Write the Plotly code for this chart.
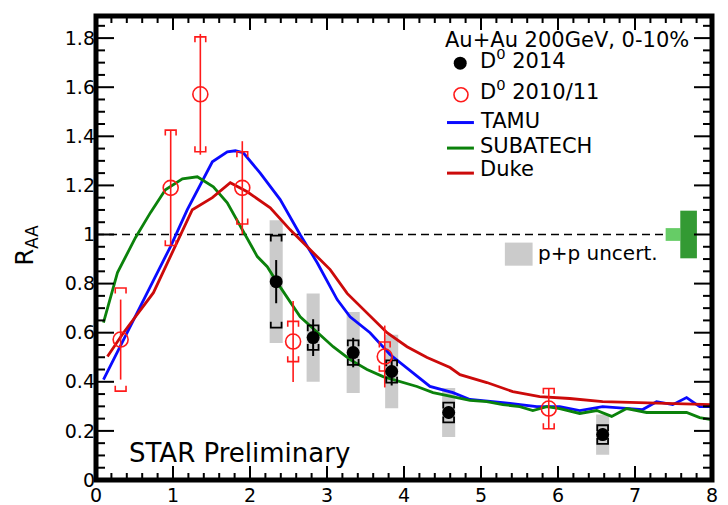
import plotly.graph_objects as go

# ---- D0 R_AA in Au+Au 200 GeV, 0-10% central ----
# 2014 run
pt_2014 = [2.34, 2.82, 3.34, 3.84, 4.58, 6.58]
raa_2014 = [0.808, 0.580, 0.519, 0.442, 0.275, 0.185]
stat_2014 = [0.088, 0.075, 0.060, 0.057, 0.025, 0.025]
sys_2014 = [0.187, 0.050, 0.050, 0.045, 0.040, 0.038]
ppunc_2014 = [0.250, 0.180, 0.165, 0.150, 0.100, 0.082]

# 2010/11 runs
pt_2010 = [0.32, 0.97, 1.355, 1.90, 2.56, 3.75, 5.88]
raa_2010 = [0.572, 1.190, 1.571, 1.190, 0.564, 0.503, 0.291]
stat_2010 = [0.163, 0.235, 0.246, 0.190, 0.165, 0.126, 0.082]
sys_2010 = [0.210, 0.235, 0.234, 0.147, 0.082, 0.059, 0.082]

# ---- model curves ----
tamu_pt = [0.097, 0.966, 1.186, 1.511, 1.705, 1.81, 1.913, 2.133, 2.392, 2.652,
           2.873, 3.132, 3.30, 3.559, 3.818, 4.117, 4.337, 4.636, 4.857, 5.284,
           5.725, 6.023, 6.282, 6.58, 6.80, 7.10, 7.28, 7.49, 7.67, 7.84, 7.99]
tamu_raa = [0.409, 0.950, 1.101, 1.296, 1.337, 1.341, 1.333, 1.250, 1.142, 0.999,
            0.885, 0.735, 0.665, 0.600, 0.511, 0.438, 0.381, 0.356, 0.328, 0.315,
            0.299, 0.299, 0.283, 0.299, 0.295, 0.287, 0.319, 0.307, 0.336, 0.299, 0.299]

subatech_pt = [0.097, 0.279, 0.512, 0.707, 0.901, 1.122, 1.316, 1.524, 1.705, 1.874,
               2.095, 2.224, 2.354, 2.652, 2.873, 3.08, 3.30, 3.52, 3.728, 3.948,
               4.168, 4.377, 4.636, 4.857, 5.076, 5.284, 5.504, 5.673, 5.855, 6.023,
               6.282, 6.503, 6.697, 6.892, 7.151, 7.41, 7.67, 7.84, 7.99]
subatech_raa = [0.641, 0.845, 0.987, 1.089, 1.182, 1.227, 1.235, 1.194, 1.129, 1.032,
                0.910, 0.869, 0.804, 0.665, 0.600, 0.543, 0.490, 0.450, 0.421, 0.401,
                0.381, 0.356, 0.340, 0.324, 0.319, 0.307, 0.299, 0.283, 0.299, 0.291,
                0.271, 0.283, 0.259, 0.291, 0.275, 0.275, 0.275, 0.254, 0.246]

duke_pt = [0.149, 0.357, 0.746, 1.005, 1.251, 1.511, 1.744, 1.964, 2.263, 2.522,
           2.782, 3.041, 3.262, 3.521, 3.78, 4.04, 4.30, 4.598, 4.727, 5.076,
           5.413, 5.763, 6.152, 6.58, 7.02, 7.45, 7.99]
duke_raa = [0.503, 0.600, 0.763, 0.938, 1.101, 1.150, 1.211, 1.174, 1.109, 1.019,
            0.938, 0.857, 0.760, 0.682, 0.600, 0.543, 0.499, 0.458, 0.429, 0.397,
            0.360, 0.340, 0.332, 0.319, 0.315, 0.311, 0.307]

# global normalisation uncertainties drawn at unity
norm_light = 0.026
norm_dark = 0.097

# axis ranges and tick values
x_range = [0.0, 8.0]
y_range = [0.0, 1.89]
x_major = [0, 1, 2, 3, 4, 5, 6, 7, 8]
x_minor = [round(0.2 * i, 2) for i in range(41) if i % 5]
y_major = [0.0, 0.2, 0.4, 0.6, 0.8, 1.0, 1.2, 1.4, 1.6, 1.8]
y_major_text = ["0", "0.2", "0.4", "0.6", "0.8", "1", "1.2", "1.4", "1.6", "1.8"]
y_minor = [round(0.05 * i, 2) for i in range(38) if i % 4]

BLACK = "#000000"
RED = "#ff1a1a"
GREY = "#cbcbcb"
BLUE = "#0a0aff"
GREEN = "#0b820b"
DRED = "#cc0a0a"
FONT = "DejaVu Sans"


def boxes(xs, ys, errs, hw):
    bx, by = [], []
    for x, y, e in zip(xs, ys, errs):
        bx += [x - hw, x + hw, x + hw, x - hw, x - hw, None]
        by += [y - e, y - e, y + e, y + e, y - e, None]
    return bx, by


def vbars(xs, ys, errs):
    bx, by = [], []
    for x, y, e in zip(xs, ys, errs):
        bx += [x, x, None]
        by += [y - e, y + e, None]
    return bx, by


def brackets(xs, ys, errs, hw, leg):
    bx, by = [], []
    for x, y, e in zip(xs, ys, errs):
        top, bot = y + e, y - e
        bx += [x - hw, x - hw, x + hw, x + hw, None, x - hw, x - hw, x + hw, x + hw, None]
        by += [top - leg, top, top, top - leg, None, bot + leg, bot, bot, bot + leg, None]
    return bx, by


fig = go.Figure()

# p+p reference uncertainty boxes
gx, gy = boxes(pt_2014, raa_2014, ppunc_2014, 0.085)
fig.add_trace(go.Scatter(x=gx, y=gy, mode="lines", fill="toself", fillcolor=GREY,
                         line=dict(width=0), hoverinfo="skip", showlegend=False))

# key box for the p+p uncertainty
lx, ly = boxes([5.49], [0.92], [0.047], 0.18)
fig.add_trace(go.Scatter(x=lx, y=ly, mode="lines", fill="toself", fillcolor=GREY,
                         line=dict(width=0), hoverinfo="skip", showlegend=False))

# normalisation boxes at R_AA = 1
nx, ny = boxes([7.493], [1.0], [norm_light], 0.095)
fig.add_trace(go.Scatter(x=nx, y=ny, mode="lines", fill="toself", fillcolor="#66cc66",
                         line=dict(width=0), hoverinfo="skip", showlegend=False))
nx, ny = boxes([7.696], [1.0], [norm_dark], 0.108)
fig.add_trace(go.Scatter(x=nx, y=ny, mode="lines", fill="toself", fillcolor="#339a33",
                         line=dict(width=0), hoverinfo="skip", showlegend=False))

# unity reference line
fig.add_trace(go.Scatter(x=[0.0, 7.39], y=[1.0, 1.0], mode="lines",
                         line=dict(color=BLACK, width=1.5, dash="8px,5px"),
                         hoverinfo="skip", showlegend=False))

# model curves
fig.add_trace(go.Scatter(x=tamu_pt, y=tamu_raa, mode="lines", name="TAMU",
                         line=dict(color=BLUE, width=2.8), showlegend=False))
fig.add_trace(go.Scatter(x=subatech_pt, y=subatech_raa, mode="lines", name="SUBATECH",
                         line=dict(color=GREEN, width=2.8), showlegend=False))
fig.add_trace(go.Scatter(x=duke_pt, y=duke_raa, mode="lines", name="Duke",
                         line=dict(color=DRED, width=2.8), showlegend=False))

# 2010/11: systematic brackets and statistical bars
bx, by = brackets(pt_2010, raa_2010, sys_2010, 0.07, 0.022)
fig.add_trace(go.Scatter(x=bx, y=by, mode="lines", line=dict(color=RED, width=1.6),
                         hoverinfo="skip", showlegend=False))
sx, sy = vbars(pt_2010, raa_2010, stat_2010)
fig.add_trace(go.Scatter(x=sx, y=sy, mode="lines", line=dict(color=RED, width=1.6),
                         hoverinfo="skip", showlegend=False))

# 2014: systematic brackets and statistical bars
bx, by = brackets(pt_2014, raa_2014, sys_2014, 0.07, 0.024)
fig.add_trace(go.Scatter(x=bx, y=by, mode="lines", line=dict(color=BLACK, width=1.8),
                         hoverinfo="skip", showlegend=False))
sx, sy = vbars(pt_2014, raa_2014, stat_2014)
fig.add_trace(go.Scatter(x=sx, y=sy, mode="lines", line=dict(color=BLACK, width=2),
                         hoverinfo="skip", showlegend=False))

# data points
fig.add_trace(go.Scatter(x=pt_2010, y=raa_2010, mode="markers", name="D<sup>0</sup> 2010/11",
                         marker=dict(symbol="circle-open", size=15, color=RED,
                                     line=dict(width=1.6, color=RED)),
                         showlegend=False))
fig.add_trace(go.Scatter(x=pt_2014, y=raa_2014, mode="markers", name="D<sup>0</sup> 2014",
                         marker=dict(symbol="circle", size=13, color=BLACK),
                         showlegend=False))

# ---- key (upper right) ----
def key_text(x, y, text):
    fig.add_annotation(x=x, y=y, xref="x", yref="y", text=text, showarrow=False,
                       xanchor="left", yanchor="bottom",
                       font=dict(family=FONT, size=21, color=BLACK))


key_text(4.506, 1.735, "Au+Au 200GeV, 0-10%")
key_text(4.96, 1.649, "D<sup>0</sup> 2014")
key_text(4.96, 1.524, "D<sup>0</sup> 2010/11")
key_text(4.96, 1.405, "TAMU")
key_text(4.96, 1.303, "SUBATECH")
key_text(4.96, 1.208, "Duke")

# key symbols: filled / open circles and line samples
fig.add_shape(type="circle", xref="x", yref="y", xsizemode="pixel", ysizemode="pixel",
              xanchor=4.73, yanchor=1.698, x0=-6.5, x1=6.5, y0=-6.5, y1=6.5,
              fillcolor=BLACK, line=dict(width=0))
fig.add_shape(type="circle", xref="x", yref="y", xsizemode="pixel", ysizemode="pixel",
              xanchor=4.74, yanchor=1.569, x0=-7, x1=7, y0=-7, y1=7,
              fillcolor="rgba(0,0,0,0)", line=dict(width=1.6, color=RED))
for yk, col in [(1.456, BLUE), (1.352, GREEN), (1.250, DRED)]:
    fig.add_shape(type="line", xref="x", yref="y", x0=4.558, x1=4.908, y0=yk, y1=yk,
                  line=dict(color=col, width=3))

fig.add_annotation(x=5.72, y=0.925, xref="x", yref="y", text="p+p uncert.",
                   showarrow=False, xanchor="left", yanchor="middle",
                   font=dict(family=FONT, size=20, color=BLACK))
fig.add_annotation(x=0.40, y=0.112, xref="x", yref="y", text="STAR Preliminary",
                   showarrow=False, xanchor="left", yanchor="middle",
                   font=dict(family=FONT, size=26, color=BLACK))

# y-axis title
fig.add_annotation(x=-0.141, y=0.507, xref="paper", yref="paper", text="R<sub>AA</sub>",
                   showarrow=False, textangle=-90, xanchor="left", yanchor="middle",
                   font=dict(family=FONT, size=24, color=BLACK))

# frame
fig.add_shape(type="rect", xref="paper", yref="paper", x0=0, x1=1, y0=0, y1=1,
              line=dict(color=BLACK, width=5), layer="above")

# inward ticks on all four sides (lengths in pixels)
tick_line = dict(color=BLACK, width=2)
for vals, length in [(x_major, 14), (x_minor, 7)]:
    for v in vals:
        for anchor, sign in [(0, 1), (1, -1)]:
            fig.add_shape(type="line", xref="x", x0=v, x1=v,
                          yref="paper", ysizemode="pixel", yanchor=anchor,
                          y0=0, y1=sign * length, line=tick_line, layer="above")
for vals, length in [(y_major, 18), (y_minor, 9)]:
    for v in vals:
        for anchor, sign in [(0, 1), (1, -1)]:
            fig.add_shape(type="line", yref="y", y0=v, y1=v,
                          xref="paper", xsizemode="pixel", xanchor=anchor,
                          x0=0, x1=sign * length, line=tick_line, layer="above")

tickfont = dict(family=FONT, size=19, color=BLACK)

fig.update_xaxes(range=x_range, tickvals=x_major, ticktext=[str(v) for v in x_major],
                 ticks="", ticklabelstandoff=2, tickfont=tickfont,
                 showgrid=False, zeroline=False, showline=False, automargin=False)
fig.update_yaxes(range=y_range, tickvals=y_major, ticktext=y_major_text,
                 ticks="", tickfont=tickfont,
                 showgrid=False, zeroline=False, showline=False, automargin=False)

fig.update_layout(
    template="none",
    width=728, height=505,
    margin=dict(l=95.5, r=15.5, t=16, b=24.5),
    paper_bgcolor="white", plot_bgcolor="white",
    font=dict(family=FONT, color=BLACK),
    showlegend=False,
)

fig.write_html("out.html")
